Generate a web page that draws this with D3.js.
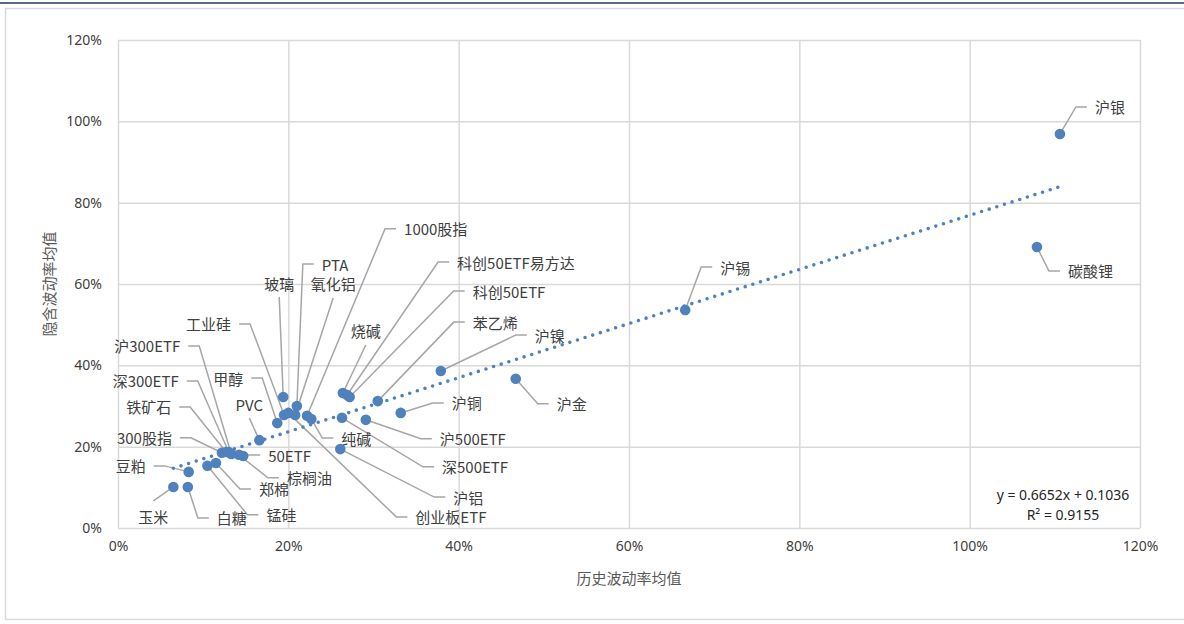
<!DOCTYPE html>
<html>
<head>
<meta charset="utf-8">
<script src="https://cdn.jsdelivr.net/npm/d3@7"></script>
<style>
  body { margin: 0; background: #fff; }
  svg { display: block; font-family: "Noto Sans CJK SC", "Noto Sans", sans-serif; }
</style>
</head>
<body>
<div id="container"></div>
<script>
// data (historical vol mean, implied vol mean)
var names = ["沪银", "碳酸锂", "沪锡", "沪金", "沪镍", "沪铜", "苯乙烯", "科创50ETF", "科创50ETF易方达", "烧碱",
  "沪500ETF", "深500ETF", "沪铝", "1000股指", "纯碱", "氧化铝", "PTA", "玻璃", "工业硅", "创业板ETF",
  "甲醇", "PVC", "50ETF", "棕榈油", "沪300ETF", "深300ETF", "铁矿石", "300股指", "郑棉", "锰硅",
  "豆粕", "白糖", "玉米"];
var hv = [1.106, 1.079, 0.666, 0.467, 0.379, 0.332, 0.305, 0.272, 0.269, 0.264,
  0.291, 0.263, 0.261, 0.222, 0.227, 0.208, 0.210, 0.194, 0.195, 0.200,
  0.187, 0.166, 0.147, 0.142, 0.133, 0.130, 0.127, 0.122, 0.115, 0.105,
  0.083, 0.082, 0.065];
var iv = [0.969, 0.691, 0.536, 0.367, 0.386, 0.283, 0.312, 0.322, 0.327, 0.332,
  0.266, 0.271, 0.194, 0.276, 0.268, 0.278, 0.300, 0.322, 0.278, 0.283,
  0.258, 0.216, 0.177, 0.180, 0.182, 0.187, 0.187, 0.185, 0.160, 0.153,
  0.138, 0.101, 0.101];
var tickValues = [0, 0.2, 0.4, 0.6, 0.8, 1.0, 1.2];
var trendSlope = 0.6652, trendIntercept = 0.1036;
var trendText = ["y = 0.6652x + 0.1036", "R² = 0.9155"];

// label layout: offset of label from its point, and side of the leader
// r = text to the right of elbow, l = text left of elbow, t = text above, b = text below
var labelLayout = {
  "沪银": [35, -27, "r"], "碳酸锂": [31, 24, "r"], "沪锡": [35, -43, "r"], "沪金": [41, 25, "r"],
  "沪镍": [94, -36, "r"], "沪铜": [51, -10, "r"], "苯乙烯": [95, -79, "r"], "科创50ETF": [123, -106, "r"],
  "科创50ETF易方达": [110, -133, "r"], "烧碱": [23, -62, "t"], "沪500ETF": [74, 19, "r"],
  "深500ETF": [100, 49, "r"], "沪铝": [113, 48, "r"], "1000股指": [97, -187, "r"], "纯碱": [30, 19, "r"],
  "氧化铝": [38, -131, "t"], "PTA": [25, -142, "r"], "玻璃": [-4, -114, "t"], "工业硅": [-53, -91, "l"],
  "创业板ETF": [127, 104, "r"], "甲醇": [-34, -45, "l"], "PVC": [-10, -36, "t"], "50ETF": [25, -1, "r"],
  "棕榈油": [48, 23, "r"], "沪300ETF": [-51, -108, "l"], "深300ETF": [-50, -71, "l"], "铁矿石": [-55, -45, "l"],
  "300股指": [-50, -15, "l"], "郑棉": [43, 26, "r"], "锰硅": [59, 49, "r"], "豆粕": [-43, -6, "l"],
  "白糖": [29, 31, "r"], "玉米": [-20, 30, "b"]
};

var W = 1184, H = 624;
var margin = {top: 40, right: 44, bottom: 96, left: 118};

var svg = d3.select("#container").append("svg")
  .attr("width", W).attr("height", H);

// outer frame + top rule
svg.append("rect")
  .attr("x", 5.5).attr("y", 8.5).attr("width", 1200).attr("height", 611)
  .attr("fill", "none").attr("stroke", "#d9d9d9").attr("stroke-width", 1.5);
svg.append("line")
  .attr("x1", 0).attr("x2", W).attr("y1", 3).attr("y2", 3)
  .attr("stroke", "#1f3864").attr("stroke-width", 1.5);

var x = d3.scaleLinear().domain([0, 1.2]).range([margin.left, W - margin.right]);
var y = d3.scaleLinear().domain([0, 1.2]).range([H - margin.bottom, margin.top]);

var fmt = d3.format(".0%");

// grid + axes
var gx = svg.append("g")
  .attr("transform", "translate(0," + y(0) + ")")
  .call(d3.axisBottom(x).tickValues(tickValues).tickFormat(fmt)
    .tickSize(-(y(0) - y(1.2))).tickPadding(13));
var gy = svg.append("g")
  .attr("transform", "translate(" + x(0) + ",0)")
  .call(d3.axisLeft(y).tickValues(tickValues).tickFormat(fmt)
    .tickSize(-(x(1.2) - x(0))).tickPadding(16));

[gx, gy].forEach(function(g) {
  g.select(".domain").remove();
  g.selectAll(".tick line").attr("stroke", "#d9d9d9").attr("stroke-width", 1.5);
  g.selectAll(".tick text")
    .attr("fill", "#404040")
    .attr("font-size", 14)
    .attr("font-family", "'Noto Sans', sans-serif");
});

// axis titles
svg.append("text")
  .attr("x", (x(0) + x(1.2)) / 2).attr("y", 577)
  .attr("text-anchor", "middle").attr("dominant-baseline", "central")
  .attr("font-size", 15).attr("fill", "#595959")
  .text("历史波动率均值");
svg.append("text")
  .attr("transform", "translate(48," + (y(0) + y(1.2)) / 2 + ") rotate(-90)")
  .attr("text-anchor", "middle").attr("dominant-baseline", "central")
  .attr("font-size", 15).attr("fill", "#595959")
  .text("隐含波动率均值");

var points = names.map(function(n, i) { return {name: n, hv: hv[i], iv: iv[i]}; });

// leader lines
var leaders = svg.append("g");
var labels = svg.append("g")
  .attr("font-size", 15).attr("fill", "#404040");

points.forEach(function(d) {
  var px = x(d.hv), py = y(d.iv);
  var lay = labelLayout[d.name];
  var tx = px + lay[0], ty = py + lay[1], mode = lay[2];
  var path, anchor;
  if (mode == "r") {
    path = [[px, py], [tx - 19, ty], [tx - 8, ty]];
    anchor = "start";
  } else if (mode == "l") {
    path = [[px, py], [tx + 19, ty], [tx + 8, ty]];
    anchor = "end";
  } else if (mode == "t") {
    path = [[px, py], [tx, ty + 14]];
    anchor = "middle";
  } else {
    path = [[px, py], [tx, ty - 16]];
    anchor = "middle";
  }
  leaders.append("path")
    .attr("d", d3.line()(path))
    .attr("fill", "none")
    .attr("stroke", "#a6a6a6")
    .attr("stroke-width", 1.5);
  labels.append("text")
    .attr("x", tx).attr("y", ty)
    .attr("text-anchor", anchor)
    .attr("dominant-baseline", "central")
    .text(d.name);
});

// trend line (dotted)
var xMin = d3.min(hv), xMax = d3.max(hv);
svg.append("path")
  .attr("d", d3.line()([[x(xMin), y(trendSlope * xMin + trendIntercept)],
                        [x(xMax), y(trendSlope * xMax + trendIntercept)]]))
  .attr("stroke", "#4f81bd")
  .attr("stroke-width", 3.6)
  .attr("stroke-linecap", "round")
  .attr("stroke-dasharray", "0,8");

// points
svg.append("g")
  .selectAll("circle")
  .data(points)
  .enter().append("circle")
  .attr("cx", function(d) { return x(d.hv); })
  .attr("cy", function(d) { return y(d.iv); })
  .attr("r", 5.3)
  .attr("fill", "#4f81bd");

// equation
svg.append("g")
  .attr("font-family", "'Noto Sans', sans-serif")
  .attr("font-size", 14).attr("fill", "#262626")
  .attr("text-anchor", "middle")
  .selectAll("text")
  .data(trendText)
  .enter().append("text")
  .attr("x", 1063)
  .attr("y", function(d, i) { return 494 + i * 20; })
  .attr("dominant-baseline", "central")
  .text(function(d) { return d; });
</script>
</body>
</html>
